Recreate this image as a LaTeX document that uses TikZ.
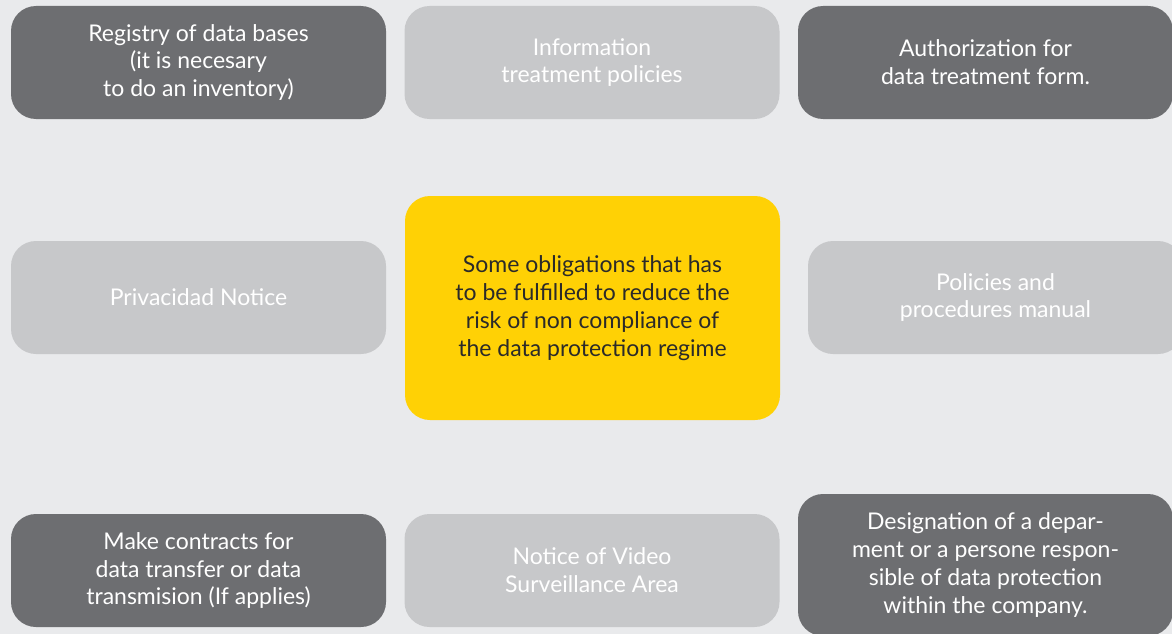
\documentclass[tikz,border=0pt]{standalone}
\usepackage{fontspec}
\setmainfont{Lato}
\definecolor{bgc}{HTML}{E9EAEC}
\definecolor{darkc}{HTML}{6D6E71}
\definecolor{lightc}{HTML}{C7C8CA}
\definecolor{yelc}{HTML}{FFD105}
\definecolor{txtc}{HTML}{2B2A29}
\tikzset{
  boxbase/.style={rounded corners=25pt, minimum width=375pt, inner sep=0pt, align=center,
    font=\fontsize{23}{27.8}\selectfont, text=white},
  darkbox/.style={boxbase, fill=darkc},
  lightbox/.style={boxbase, fill=lightc},
  centerbox/.style={boxbase, fill=yelc, text=txtc}
}
\begin{document}
\begin{tikzpicture}[x=1pt,y=-1pt]
\useasboundingbox (0,0) rectangle (1172,634);
\clip (0,0) rectangle (1172,634);
\fill[bgc] (0,0) rectangle (1172,634);
\node[darkbox, minimum height=113pt] (reg) at (198.5,62.5) {Registry of data bases\\(it is necesary\\to do an inventory)};
\node[lightbox, minimum height=113pt] (info) at (592,62.5) {Information\\treatment policies};
\node[darkbox, minimum height=113pt] (auth) at (985.5,62.5) {Authorization for\\data treatment form.};
\node[lightbox, minimum height=113pt] (priv) at (198.5,297.5) {Privacidad Notice};
\node[centerbox, minimum height=224pt] (center) at (592.5,308) {Some obligations that has\\to be fulfilled to reduce the\\risk of non compliance of\\the data protection regime};
\node[lightbox, minimum height=113pt] (pol) at (995.5,297.5) {Policies and\\procedures manual};
\node[darkbox, minimum height=113pt] (contr) at (198.5,570.5) {Make contracts for\\data transfer or data\\transmision (If applies)};
\node[lightbox, minimum height=113pt] (video) at (592,570.5) {Notice of Video\\Surveillance Area};
\node[darkbox, minimum height=142pt] (desig) at (985.5,565) {Designation of a depar-\\ment or a persone respon-\\sible of data protection\\within the company.};
\end{tikzpicture}
\end{document}
